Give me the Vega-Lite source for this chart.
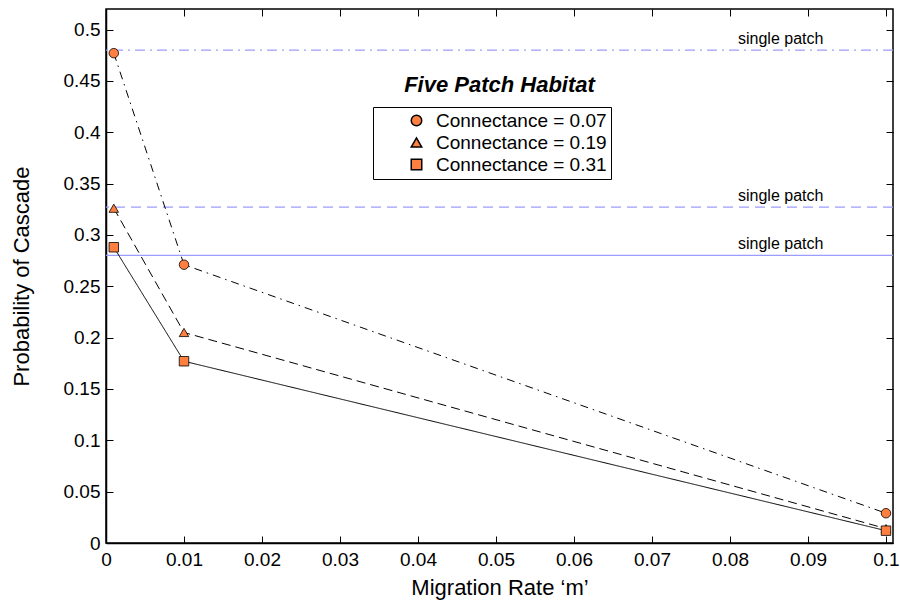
{
  "$schema": "https://vega.github.io/schema/vega-lite/v6.json",
  "width": 787,
  "height": 534,
  "autosize": "none",
  "padding": {"left": 106, "top": 9, "right": 7, "bottom": 65},
  "background": "white",
  "config": {
    "font": "Liberation Sans",
    "view": {"stroke": "black", "strokeWidth": 1.5},
    "axis": {"grid": false, "domainColor": "black", "tickColor": "black", "labelColor": "black", "titleColor": "black", "labelFont": "Liberation Sans", "titleFont": "Liberation Sans", "labelFontSize": 19, "titleFontSize": 22, "titleFontWeight": "normal", "tickSize": -7, "domainWidth": 1.5, "tickWidth": 1, "labelFlush": false}
  },
  "title": {"text": "Five Patch Habitat", "font": "Liberation Sans", "fontSize": 22, "fontStyle": "italic", "fontWeight": "bold", "color": "black", "anchor": "middle", "offset": -88},
  "datasets": {
    "series": [
      {"m": 0.001, "p": 0.477, "c": "Connectance = 0.07"},
      {"m": 0.01, "p": 0.271, "c": "Connectance = 0.07"},
      {"m": 0.1, "p": 0.029, "c": "Connectance = 0.07"},
      {"m": 0.001, "p": 0.326, "c": "Connectance = 0.19"},
      {"m": 0.01, "p": 0.205, "c": "Connectance = 0.19"},
      {"m": 0.1, "p": 0.014, "c": "Connectance = 0.19"},
      {"m": 0.001, "p": 0.288, "c": "Connectance = 0.31"},
      {"m": 0.01, "p": 0.177, "c": "Connectance = 0.31"},
      {"m": 0.1, "p": 0.012, "c": "Connectance = 0.31"}
    ],
    "refs": [
      {"p": 0.48, "c": "Connectance = 0.07", "label": "single patch"},
      {"p": 0.327, "c": "Connectance = 0.19", "label": "single patch"},
      {"p": 0.28, "c": "Connectance = 0.31", "label": "single patch"}
    ]
  },
  "layer": [
    {
      "encoding": {
        "y": {"field": "p", "type": "quantitative", "scale": {"domain": [0, 0.52], "nice": false}, "title": "Probability of Cascade", "axis": {"values": [0, 0.05, 0.1, 0.15, 0.2, 0.25, 0.3, 0.35, 0.4, 0.45, 0.5], "format": "~f", "labelPadding": 13, "titlePadding": 30}}
      },
      "layer": [
        {
          "data": {"name": "refs"},
          "mark": {"type": "rule", "color": "#9c9cff", "strokeWidth": 1.2},
          "encoding": {
            "strokeDash": {"field": "c", "type": "nominal", "scale": {"domain": ["Connectance = 0.07", "Connectance = 0.19", "Connectance = 0.31"], "range": [[10, 5, 2, 5], [10, 6], [1, 0]]}, "legend": null}
          }
        },
        {
          "data": {"name": "refs"},
          "mark": {"type": "text", "fontSize": 16, "color": "black", "baseline": "alphabetic", "dy": -6},
          "encoding": {
            "x": {"datum": 0.0865, "type": "quantitative"},
            "text": {"field": "label"}
          }
        },
        {
          "data": {"name": "series"},
          "mark": {"type": "line", "color": "black", "strokeWidth": 1},
          "encoding": {
            "x": {"field": "m", "type": "quantitative", "scale": {"domain": [0, 0.1009], "nice": false}, "title": "Migration Rate ‘m’", "axis": {"values": [0, 0.01, 0.02, 0.03, 0.04, 0.05, 0.06, 0.07, 0.08, 0.09, 0.1], "format": "~f", "labelPadding": 14, "titlePadding": 8}},
            "strokeDash": {"field": "c", "type": "nominal", "scale": {"domain": ["Connectance = 0.07", "Connectance = 0.19", "Connectance = 0.31"], "range": [[8, 5, 1.5, 5], [9, 5], [1, 0]]}, "legend": null}
          }
        },
        {
          "data": {"name": "series"},
          "mark": {"type": "point", "filled": true, "fill": "#ff7f40", "stroke": "black", "strokeWidth": 0.8, "size": 90, "opacity": 1},
          "encoding": {
            "x": {"field": "m", "type": "quantitative"},
            "shape": {"field": "c", "type": "nominal",
              "scale": {"domain": ["Connectance = 0.07", "Connectance = 0.19", "Connectance = 0.31"], "range": ["circle", "triangle-up", "square"]},
              "legend": {"title": null, "orient": "none", "legendX": 267, "legendY": 98, "strokeColor": "black", "padding": 4, "labelFontSize": 19, "labelLimit": 400, "labelColor": "black", "labelFont": "Liberation Sans", "symbolSize": 110, "symbolOffset": 30, "labelOffset": 10, "rowPadding": 2,
                "encode": {"symbols": {"update": {"fill": {"value": "#ff7f40"}, "stroke": {"value": "black"}, "strokeWidth": {"value": 0.9}, "opacity": {"value": 1}}}}}}
          }
        }
      ],
      "resolve": {"scale": {"shape": "independent", "strokeDash": "independent"}}
    },
    {
      "data": {"name": "series"},
      "mark": {"type": "point", "opacity": 0},
      "encoding": {
        "x": {"field": "m", "type": "quantitative", "axis": {"orient": "top", "values": [0, 0.01, 0.02, 0.03, 0.04, 0.05, 0.06, 0.07, 0.08, 0.09, 0.1], "labels": false, "title": null, "domain": false}},
        "y": {"field": "p", "type": "quantitative", "axis": {"orient": "right", "values": [0, 0.05, 0.1, 0.15, 0.2, 0.25, 0.3, 0.35, 0.4, 0.45, 0.5], "labels": false, "title": null, "domain": false}}
      }
    }
  ],
  "resolve": {"axis": {"x": "independent", "y": "independent"}}
}
